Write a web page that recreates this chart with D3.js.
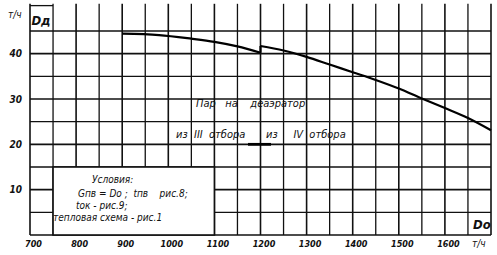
<!DOCTYPE html>
<html>
<head>
<meta charset="utf-8">
<script src="https://cdn.jsdelivr.net/npm/d3@7"></script>
<style>
  body { margin: 0; background: #fff; }
  svg text { font-family: "DejaVu Sans Condensed", "DejaVu Sans", sans-serif; font-style: italic; fill: #111; white-space: pre; }
</style>
</head>
<body>
<svg id="chart" width="497" height="255"></svg>
<script>
// steam to deaerator (t/h) vs turbine flow Do (t/h)
var fromIII = [[900, 44.4], [980, 44.1], [1050, 43.3], [1100, 42.6], [1150, 41.6], [1200, 40.2]];
var fromIV = [[1200, 41.7], [1250, 40.7], [1300, 39.3], [1350, 37.6], [1400, 35.9], [1450, 34.2],
              [1500, 32.3], [1550, 30.1], [1600, 28.0], [1650, 25.8], [1700, 23.1]];
var xTickValues = [700, 800, 900, 1000, 1100, 1200, 1300, 1400, 1500, 1600];
var yTickValues = [10, 20, 30, 40];
var conditions = ["Условия:", "Gпв = Dо ;  tпв    рис.8;", "tок - рис.9;", "тепловая схема - рис.1"];

var svg = d3.select("#chart");
var x = d3.scaleLinear().domain([700, 1700]).range([30, 491]);
var y = d3.scaleLinear().domain([0, 51]).range([235, 3.8]);

var g = svg.append("g");

// grid
g.append("g").selectAll("line")
    .data(d3.range(700, 1701, 50))
    .enter().append("line")
    .attr("x1", function (d) { return x(d); })
    .attr("x2", function (d) { return x(d); })
    .attr("y1", y(51)).attr("y2", y(0))
    .attr("stroke", "#111")
    .attr("stroke-width", function (d) { return d % 100 === 0 ? 1.6 : 1.3; });

g.append("g").selectAll("line")
    .data(d3.range(0, 50, 5))
    .enter().append("line")
    .attr("x1", x(700)).attr("x2", x(1700))
    .attr("y1", function (d) { return y(d); })
    .attr("y2", function (d) { return y(d); })
    .attr("stroke", "#111")
    .attr("stroke-width", function (d) { return d % 10 === 0 ? 1.7 : 1.3; });

// top-left cell with Dд
g.append("line")
    .attr("x1", x(700)).attr("x2", x(750))
    .attr("y1", y(50.6)).attr("y2", y(50.6))
    .attr("stroke", "#111").attr("stroke-width", 1.3);
g.append("text").attr("x", x(703)).attr("y", y(46.3))
    .attr("font-size", 13).attr("font-weight", "bold").text("Dд");

// conditions box
g.append("rect")
    .attr("x", x(750)).attr("y", y(15))
    .attr("width", x(1100) - x(750)).attr("height", y(0) - y(15))
    .attr("fill", "#fff").attr("stroke", "#111").attr("stroke-width", 1.6);

var condPos = [[92, 183], [78, 197], [76, 209], [53, 221]];
g.append("g").selectAll("text")
    .data(conditions)
    .enter().append("text")
    .attr("x", function (d, i) { return condPos[i][0]; })
    .attr("y", function (d, i) { return condPos[i][1]; })
    .attr("font-size", 10)
    .text(function (d) { return d; });

// bottom-right cell with Dо
g.append("text").attr("x", x(1661)).attr("y", y(1.3))
    .attr("font-size", 13).attr("font-weight", "bold").text("Dо");

// curve
var line = d3.line()
    .x(function (d) { return x(d[0]); })
    .y(function (d) { return y(d[1]); })
    .curve(d3.curveMonotoneX);

[fromIII, fromIV].forEach(function (seg) {
    g.append("path").datum(seg)
        .attr("d", line)
        .attr("fill", "none")
        .attr("stroke", "#000")
        .attr("stroke-width", 2.2);
});
g.append("line")
    .attr("x1", x(1200)).attr("x2", x(1200))
    .attr("y1", y(40.2)).attr("y2", y(41.7))
    .attr("stroke", "#000").attr("stroke-width", 2.2);

// annotations
g.append("text").attr("x", 196).attr("y", 107).attr("font-size", 11)
    .text("Пар   на    деаэратор");
g.append("text").attr("x", 176).attr("y", 138).attr("font-size", 11)
    .text("из  III  отбора");
g.append("text").attr("x", 266).attr("y", 138).attr("font-size", 11)
    .text("из     IV  отбора");
g.append("line")
    .attr("x1", 248).attr("x2", 271).attr("y1", y(20)).attr("y2", y(20))
    .attr("stroke", "#000").attr("stroke-width", 2.8);

// axes labels
var xAxis = d3.axisBottom(x).tickValues(xTickValues).tickSize(0).tickPadding(6)
    .tickFormat(function (d) { return d; });
var gx = svg.append("g").attr("transform", "translate(3," + y(0) + ")").call(xAxis);
gx.select(".domain").remove();
gx.selectAll("text").attr("font-size", 9).attr("font-weight", "bold").attr("font-family", null);

var yAxis = d3.axisLeft(y).tickValues(yTickValues).tickSize(0).tickPadding(8);
var gy = svg.append("g").attr("transform", "translate(" + x(700) + ",0)").call(yAxis);
gy.select(".domain").remove();
gy.selectAll("text").attr("font-size", 10).attr("font-weight", "bold").attr("font-family", null);

svg.append("text").attr("x", 8).attr("y", 18).attr("font-size", 10).text("т/ч");
svg.append("text").attr("x", 472).attr("y", 247).attr("font-size", 10).text("т/ч");
</script>
</body>
</html>
